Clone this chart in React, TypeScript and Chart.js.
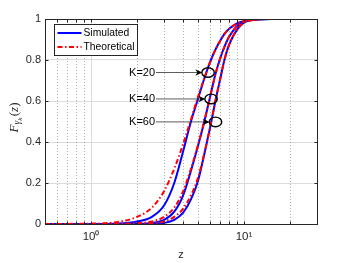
import React, { useEffect, useRef } from 'react';
import { Chart, registerables } from 'chart.js';

Chart.register(...registerables);

// ---- data ----
const Z = [0.5, 1, 1.5, 2, 2.5, 3, 3.5, 4, 4.5, 5, 5.5, 6, 6.5, 7, 7.5, 8, 9, 10, 12, 15, 20, 30];

const SIM_1 = [0, 0, 0.002, 0.012, 0.035, 0.09, 0.2, 0.355, 0.5, 0.61, 0.71, 0.79, 0.85, 0.895, 0.93, 0.952, 0.978, 0.99, 0.998, 1, 1, 1];
const THEO_1 = [0, 0.002, 0.01, 0.035, 0.08, 0.16, 0.27, 0.39, 0.51, 0.62, 0.71, 0.79, 0.85, 0.895, 0.93, 0.952, 0.978, 0.99, 0.998, 1, 1, 1];
const SIM_2 = [0, 0, 0, 0.001, 0.005, 0.02, 0.06, 0.14, 0.26, 0.38, 0.5, 0.62, 0.73, 0.81, 0.87, 0.915, 0.965, 0.988, 0.998, 1, 1, 1];
const THEO_2 = [0, 0, 0.001, 0.004, 0.012, 0.035, 0.08, 0.16, 0.27, 0.385, 0.5, 0.62, 0.73, 0.81, 0.87, 0.915, 0.965, 0.988, 0.998, 1, 1, 1];
const SIM_3 = [0, 0, 0, 0, 0.001, 0.005, 0.02, 0.055, 0.12, 0.21, 0.34, 0.47, 0.6, 0.71, 0.81, 0.875, 0.948, 0.982, 0.997, 1, 1, 1];
const THEO_3 = [0, 0, 0, 0.001, 0.004, 0.012, 0.035, 0.075, 0.14, 0.225, 0.345, 0.47, 0.6, 0.71, 0.81, 0.875, 0.948, 0.982, 0.997, 1, 1, 1];

const X_MAJOR = [1, 10];
const X_MINOR = [0.6, 0.7, 0.8, 0.9, 2, 3, 4, 5, 6, 7, 8, 9, 20];
const X_TICKS = [0.5, 0.6, 0.7, 0.8, 0.9, 1, 2, 3, 4, 5, 6, 7, 8, 9, 10, 20, 30];
const X_TICK_LABELS: Record<number, string> = { 1: '10⁰', 10: '10¹' };
const Y_TICKS = [0, 0.2, 0.4, 0.6, 0.8, 1];

const LEGEND_LABELS = ['Simulated', 'Theoretical'];
const ANNOT_LABELS = ['K=20', 'K=40', 'K=60'];
const ANNOT_TEXT_Z = [2.62, 2.62, 2.62];
const ANNOT_Z = [5.82, 6.09, 6.51];
const ANNOT_F = [0.739, 0.61, 0.498];

const FONT = '"Liberation Sans", Arial, Helvetica, sans-serif';
const SERIF = '"Liberation Serif", "DejaVu Serif", serif';
const AXIS_COLOR = '#262626';
const BLUE = '#0000ff';
const RED = '#ff0000';
const DASHDOT = [5, 2.5, 1.5, 2.5];

const toPts = (arr: number[]) => Z.map((z, i) => ({ x: z, y: arr[i] }));

const overlayPlugin = {
  id: 'matlabOverlay',
  beforeDatasetsDraw(chart: any) {
    const { ctx, chartArea: a, scales } = chart;
    const x = scales.x;
    ctx.save();
    ctx.strokeStyle = 'rgba(38,38,38,0.35)';
    ctx.lineWidth = 1;
    ctx.setLineDash([1, 2]);
    for (const v of X_MINOR) {
      const px = Math.round(x.getPixelForValue(v)) + 0.5;
      ctx.beginPath();
      ctx.moveTo(px, a.top);
      ctx.lineTo(px, a.bottom);
      ctx.stroke();
    }
    ctx.restore();
  },
  afterDatasetsDraw(chart: any) {
    const { ctx, chartArea: a, scales } = chart;
    const x = scales.x;
    const y = scales.y;
    ctx.save();
    ctx.strokeStyle = AXIS_COLOR;
    ctx.lineWidth = 1;
    ctx.setLineDash([]);
    const L = Math.round(a.left) + 0.5;
    const R = Math.round(a.right) + 0.5;
    const T = Math.round(a.top) + 0.5;
    const B = Math.round(a.bottom) + 0.5;
    ctx.strokeRect(L, T, R - L, B - T);
    const tl = 3;
    ctx.beginPath();
    for (const v of X_TICKS) {
      const px = Math.round(x.getPixelForValue(v)) + 0.5;
      ctx.moveTo(px, B);
      ctx.lineTo(px, B - tl);
      ctx.moveTo(px, T);
      ctx.lineTo(px, T + tl);
    }
    for (const v of Y_TICKS) {
      const py = Math.round(y.getPixelForValue(v)) + 0.5;
      ctx.moveTo(L, py);
      ctx.lineTo(L + tl, py);
      ctx.moveTo(R, py);
      ctx.lineTo(R - tl, py);
    }
    ctx.stroke();
    ctx.restore();
  },
  afterDraw(chart: any) {
    const { ctx, chartArea: a, scales } = chart;
    const x = scales.x;
    const y = scales.y;
    ctx.save();

    // annotations
    ctx.font = `11px ${FONT}`;
    ctx.textAlign = 'right';
    ctx.textBaseline = 'middle';
    ANNOT_LABELS.forEach((lab, i) => {
      const tx = x.getPixelForValue(ANNOT_TEXT_Z[i]);
      const cx = x.getPixelForValue(ANNOT_Z[i]);
      const cy = y.getPixelForValue(ANNOT_F[i]);
      ctx.fillStyle = '#000';
      ctx.fillText(lab, tx, cy);
      const rx = 6.2;
      const ry = 4.8;
      const tipX = cx - rx + 0.5;
      ctx.lineWidth = 0.8;
      ctx.strokeStyle = '#333';
      ctx.beginPath();
      ctx.moveTo(tx + 1, cy);
      ctx.lineTo(tipX - 4, cy);
      ctx.stroke();
      ctx.fillStyle = '#000';
      ctx.beginPath();
      ctx.moveTo(tipX, cy);
      ctx.lineTo(tipX - 7, cy - 3.2);
      ctx.lineTo(tipX - 5, cy);
      ctx.lineTo(tipX - 7, cy + 3.2);
      ctx.closePath();
      ctx.fill();
      ctx.strokeStyle = '#000';
      ctx.lineWidth = 1.4;
      ctx.beginPath();
      ctx.ellipse(cx, cy, rx, ry, 0, 0, Math.PI * 2);
      ctx.stroke();
    });

    // legend
    const bx = Math.round(a.left + 9) + 0.5;
    const by = Math.round(a.top + 5) + 0.5;
    const bw = 83;
    const bh = 31;
    ctx.fillStyle = '#fff';
    ctx.fillRect(bx, by, bw, bh);
    ctx.strokeStyle = AXIS_COLOR;
    ctx.lineWidth = 1;
    ctx.strokeRect(bx, by, bw, bh);
    const rows = [by + 8.5, by + 22.5];
    ctx.lineWidth = 2;
    ctx.strokeStyle = BLUE;
    ctx.setLineDash([]);
    ctx.beginPath();
    ctx.moveTo(bx + 3, rows[0]);
    ctx.lineTo(bx + 27, rows[0]);
    ctx.stroke();
    ctx.strokeStyle = RED;
    ctx.setLineDash(DASHDOT);
    ctx.beginPath();
    ctx.moveTo(bx + 3, rows[1]);
    ctx.lineTo(bx + 27, rows[1]);
    ctx.stroke();
    ctx.setLineDash([]);
    ctx.fillStyle = '#000';
    ctx.font = `10.3px ${FONT}`;
    ctx.textAlign = 'left';
    ctx.textBaseline = 'middle';
    ctx.fillText(LEGEND_LABELS[0], bx + 29, rows[0]);
    ctx.fillText(LEGEND_LABELS[1], bx + 29, rows[1]);

    // y-axis label F_{gamma_k}(z)
    ctx.save();
    ctx.translate(17.5, (a.top + a.bottom) / 2 - 4);
    ctx.rotate(-Math.PI / 2);
    ctx.fillStyle = AXIS_COLOR;
    ctx.textAlign = 'left';
    ctx.textBaseline = 'alphabetic';
    const parts = [
      { t: 'F', f: `italic 13px ${SERIF}`, dy: 0 },
      { t: 'γ', f: `italic 9.5px ${SERIF}`, dy: 2.5 },
      { t: 'k', f: `italic 7px ${SERIF}`, dy: 4.5 },
      { t: '(', f: `13px ${SERIF}`, dy: 0, pad: 1.5 },
      { t: 'z', f: `italic 13px ${SERIF}`, dy: 0 },
      { t: ')', f: `13px ${SERIF}`, dy: 0 },
    ] as { t: string; f: string; dy: number; pad?: number }[];
    let total = 0;
    const widths = parts.map((p) => {
      ctx.font = p.f;
      const w = ctx.measureText(p.t).width + (p.pad || 0);
      total += w;
      return w;
    });
    let px = -total / 2;
    parts.forEach((p, i) => {
      ctx.font = p.f;
      ctx.fillText(p.t, px + (p.pad || 0), p.dy);
      px += widths[i];
    });
    ctx.restore();

    ctx.restore();
  },
};

export default function App() {
  const ref = useRef<HTMLCanvasElement | null>(null);
  useEffect(() => {
    if (!ref.current) return;
    const mk = (data: number[], color: string, dashed: boolean, order: number) => ({
      data: toPts(data),
      borderColor: color,
      backgroundColor: color,
      borderWidth: 2,
      borderDash: dashed ? DASHDOT : [],
      pointRadius: 0,
      fill: false,
      cubicInterpolationMode: 'monotone' as const,
      order,
    });
    const chart = new Chart(ref.current, {
      type: 'line',
      data: {
        datasets: [
          mk(SIM_1, BLUE, false, 2),
          mk(SIM_2, BLUE, false, 2),
          mk(SIM_3, BLUE, false, 2),
          mk(THEO_1, RED, true, 1),
          mk(THEO_2, RED, true, 1),
          mk(THEO_3, RED, true, 1),
        ],
      },
      options: {
        animation: false,
        responsive: false,
        devicePixelRatio: 1,
        layout: { padding: { left: 0, top: 19, right: 33, bottom: 0 } },
        plugins: { legend: { display: false }, tooltip: { enabled: false } },
        scales: {
          x: {
            type: 'logarithmic',
            min: 0.5,
            max: 30,
            afterBuildTicks: (s: any) => {
              s.ticks = X_TICKS.map((v) => ({ value: v, major: X_MAJOR.includes(v) }));
            },
            afterFit: (s: any) => {
              s.height = 39;
            },
            ticks: {
              autoSkip: false,
              maxRotation: 0,
              minRotation: 0,
              padding: 6,
              color: AXIS_COLOR,
              font: { family: FONT, size: 11.5 },
              callback: (v: any) => X_TICK_LABELS[Number(v)] || '',
            },
            grid: {
              drawTicks: false,
              lineWidth: 1,
              color: (c: any) => (c.tick && X_MAJOR.includes(c.tick.value) ? '#dcdcdc' : 'rgba(0,0,0,0)'),
            },
            border: { display: false },
            title: {
              display: true,
              text: 'z',
              color: AXIS_COLOR,
              font: { family: FONT, size: 11 },
              padding: { top: 0, bottom: 1 },
            },
          },
          y: {
            type: 'linear',
            min: 0,
            max: 1,
            afterBuildTicks: (s: any) => {
              s.ticks = Y_TICKS.map((v) => ({ value: v }));
            },
            afterFit: (s: any) => {
              s.width = 45;
            },
            ticks: {
              padding: 4,
              color: AXIS_COLOR,
              font: { family: FONT, size: 11 },
              callback: (v: any) => String(Number(v)),
            },
            grid: { drawTicks: false, lineWidth: 1, color: '#dcdcdc' },
            border: { display: false },
          },
        },
      },
      plugins: [overlayPlugin],
    });
    return () => chart.destroy();
  }, []);
  return (
    <div style={{ position: 'absolute', left: 0, top: 0, width: 350, height: 263, background: '#fff' }}>
      <canvas ref={ref} width={350} height={263} style={{ display: 'block', width: 350, height: 263 }} />
    </div>
  );
}
